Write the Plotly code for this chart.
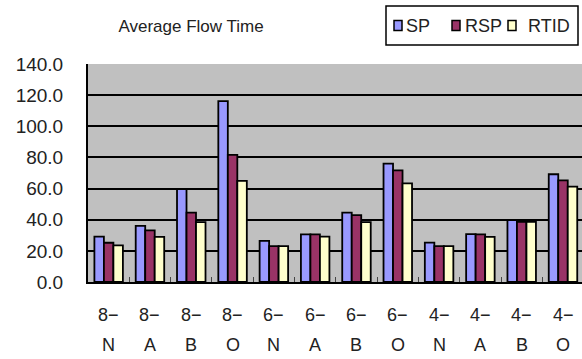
import plotly.graph_objects as go

# Scenario labels: first line (size) and second line (variant)
size_labels = ["8−", "8−", "8−", "8−", "6−", "6−", "6−", "6−", "4−", "4−", "4−", "4−"]
variant_labels = ["N", "A", "B", "O", "N", "A", "B", "O", "N", "A", "B", "O"]
categories = [f"{s}{v}" for s, v in zip(size_labels, variant_labels)]

# Average flow time per heuristic
sp_values = [29.1, 36.0, 59.6, 116.2, 26.4, 30.6, 44.6, 76.0, 25.3, 30.7, 39.8, 69.2]
rsp_values = [25.2, 33.2, 44.5, 81.6, 23.1, 30.6, 43.0, 71.7, 23.1, 30.6, 38.7, 65.3]
rtid_values = [23.5, 29.0, 38.5, 65.0, 23.1, 29.1, 38.5, 63.4, 23.1, 29.0, 38.7, 61.2]

series_names = ["SP", "RSP", "RTID"]
series_values = [sp_values, rsp_values, rtid_values]
series_colors = ["#9999FF", "#993366", "#FFFFCC"]

y_ticks = [0, 20, 40, 60, 80, 100, 120, 140]

FONT = "Liberation Sans, Arial, sans-serif"
TEXT = "#222"

W, H = 582, 359
M_L, M_R, M_T, M_B = 88, 0, 64, 77
PLOT_W = W - M_L - M_R
PLOT_H = H - M_T - M_B


def paper_x(px):
    return (px - M_L) / PLOT_W


def paper_y(py):
    return (H - M_B - py) / PLOT_H


fig = go.Figure()
for name, vals, color in zip(series_names, series_values, series_colors):
    fig.add_trace(go.Bar(
        x=categories, y=vals, name=name,
        marker=dict(color=color, line=dict(color="black", width=1.8)),
        showlegend=False,
    ))

# two-line category labels under each group
for cat, top, bottom in zip(categories, size_labels, variant_labels):
    for text, shift in ((top, -33), (bottom, -63)):
        fig.add_annotation(
            x=cat, xref="x", y=0, yref="paper", yshift=shift,
            text=text, showarrow=False, yanchor="middle", xanchor="center",
            font=dict(family=FONT, size=18, color=TEXT),
        )

# compact boxed legend in the top-right corner
shapes = [dict(
    type="rect", xref="paper", yref="paper",
    x0=paper_x(386), x1=paper_x(578), y0=paper_y(45), y1=paper_y(6),
    line=dict(color="black", width=1.5), fillcolor="white", layer="above",
)]
legend_cy = 25.5
swatch_left = [394, 452, 508]
label_left = [404, 463, 526]
for name, color, sx, lx in zip(series_names, series_colors, swatch_left, label_left):
    shapes.append(dict(
        type="rect", xref="paper", yref="paper",
        x0=paper_x(sx), x1=paper_x(sx + 8),
        y0=paper_y(legend_cy + 5), y1=paper_y(legend_cy - 5),
        line=dict(color="black", width=1.5), fillcolor=color, layer="above",
    ))
    fig.add_annotation(
        x=paper_x(lx), xref="paper", y=paper_y(legend_cy), yref="paper",
        text=name, showarrow=False, xanchor="left", yanchor="middle",
        font=dict(family=FONT, size=18, color=TEXT),
    )

fig.update_layout(
    width=W, height=H,
    margin=dict(l=M_L, r=M_R, t=M_T, b=M_B),
    paper_bgcolor="white",
    plot_bgcolor="#C0C0C0",
    barmode="group",
    bargap=0.31,
    bargroupgap=0,
    font=dict(family=FONT, size=18, color=TEXT),
    showlegend=False,
    shapes=shapes,
    title=dict(
        text="Average Flow Time", x=191 / W, xanchor="center",
        y=1 - 26 / H, yanchor="middle",
        font=dict(family=FONT, size=17, color=TEXT),
    ),
)

fig.update_xaxes(
    type="category",
    range=[-0.5, 11.46],
    showticklabels=False,
    ticks="inside", tickson="boundaries", ticklen=5,
    tickcolor="#444", tickwidth=1,
    showline=True, linecolor="black", linewidth=2,
    showgrid=False, fixedrange=True,
)
fig.update_yaxes(
    range=[0, 140],
    tickvals=y_ticks, tickformat=".1f",
    showgrid=True, gridcolor="black", gridwidth=1.6,
    showline=True, linecolor="black", linewidth=2,
    zeroline=False, ticks="", ticklabelstandoff=19,
    tickfont=dict(family=FONT, size=19, color=TEXT),
    fixedrange=True,
)

fig.write_html("out.html", config={"displayModeBar": False})
